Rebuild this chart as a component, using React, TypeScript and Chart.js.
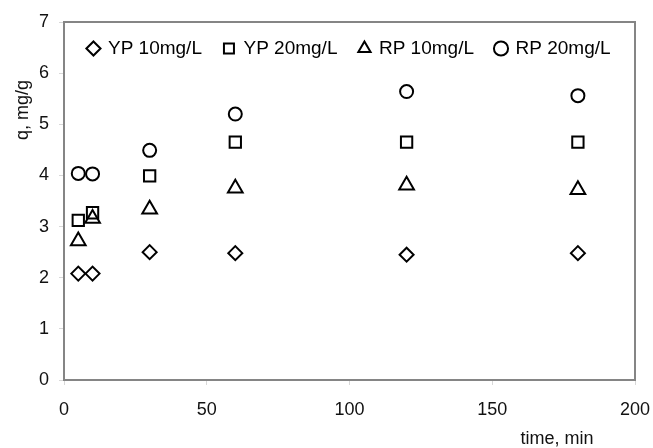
import React, { useEffect, useRef } from "react";
import { Chart, registerables } from "chart.js";

Chart.register(...registerables);

const times = [5, 10, 30, 60, 120, 180];
const yp10 = [2.08, 2.08, 2.5, 2.48, 2.45, 2.48];
const yp20 = [3.12, 3.27, 3.99, 4.65, 4.65, 4.65];
const rp10 = [2.72, 3.16, 3.34, 3.75, 3.81, 3.72];
const rp20 = [4.04, 4.03, 4.49, 5.2, 5.64, 5.56];

const seriesLabels = ["YP 10mg/L", "YP 20mg/L", "RP 10mg/L", "RP 20mg/L"];
const seriesStyles = ["rectRot", "rect", "triangle", "circle"];
const seriesRadii = [7, 8, 8.5, 6.5];
const xTitle = "time, min";
const yTitle = "q, mg/g";

const FONT = "'Liberation Sans', Arial, sans-serif";

const framePlugin = {
  id: "frameAndTitles",
  beforeDatasetsDraw(chart: any) {
    const { ctx, chartArea } = chart;
    ctx.save();
    ctx.strokeStyle = "#858585";
    ctx.lineWidth = 2;
    ctx.strokeRect(chartArea.left, chartArea.top, chartArea.right - chartArea.left, chartArea.bottom - chartArea.top);
    ctx.restore();
  },
  afterDraw(chart: any) {
    const { ctx } = chart;
    ctx.save();
    ctx.fillStyle = "#111";
    ctx.font = "18px " + FONT;
    ctx.textAlign = "center";
    ctx.textBaseline = "middle";
    ctx.fillText(xTitle, 557, 439);
    ctx.translate(23, 110);
    ctx.rotate(-Math.PI / 2);
    ctx.fillText(yTitle, 0, 0);
    ctx.restore();
  },
};

export default function App() {
  const ref = useRef<HTMLCanvasElement | null>(null);
  useEffect(() => {
    if (!ref.current) return;
    const all = [yp10, yp20, rp10, rp20];
    const chart = new Chart(ref.current, {
      type: "scatter",
      data: {
        datasets: all.map((vals, i) => ({
          label: seriesLabels[i],
          data: times.map((t, j) => ({ x: t, y: vals[j] })),
          pointStyle: seriesStyles[i] as any,
          pointRadius: seriesRadii[i],
          pointBorderWidth: 2,
          pointBorderColor: "#000",
          pointBackgroundColor: "rgba(0,0,0,0)",
          borderColor: "#000",
          backgroundColor: "rgba(0,0,0,0)",
          showLine: false,
        })),
      },
      options: {
        responsive: false,
        animation: false,
        layout: { padding: { left: 0, right: 18, top: 22, bottom: 0 } },
        plugins: {
          tooltip: { enabled: false },
          legend: {
            position: "chartArea" as any,
            labels: {
              usePointStyle: true,
              boxWidth: 10,
              boxHeight: 10,
              padding: 22,
              color: "#000",
              font: { size: 19, family: FONT },
            },
          },
        },
        scales: {
          x: {
            type: "linear",
            min: 0,
            max: 200,
            ticks: { stepSize: 50, color: "#111", padding: 14, font: { size: 18, family: FONT } },
            grid: { drawOnChartArea: false, drawTicks: true, tickLength: 5, color: "#d8d8d8" },
            border: { color: "#858585", width: 2 },
            afterFit: (s: any) => {
              s.height = 68;
              s.paddingRight = 0;
              s.paddingLeft = 0;
            },
          },
          y: {
            type: "linear",
            min: 0,
            max: 7,
            ticks: { stepSize: 1, color: "#111", padding: 10, font: { size: 18, family: FONT } },
            grid: { drawOnChartArea: false, drawTicks: true, tickLength: 5, color: "#d8d8d8" },
            border: { color: "#858585", width: 2 },
            afterFit: (s: any) => {
              s.width = 64;
              s.paddingTop = 0;
              s.paddingBottom = 0;
            },
          },
        },
      },
      plugins: [framePlugin],
    });
    // Lay the in-plot legend out as a single horizontal row at the top of the chart area.
    const lg: any = (chart as any).legend;
    if (lg) {
      lg.isHorizontal = () => true;
      lg.setDimensions = function () {
        const ca = chart.chartArea;
        this.width = ca.right - ca.left;
        this.left = ca.left;
        this.right = ca.right;
        this.top = ca.top - 5;
      };
      chart.update();
    }
    return () => chart.destroy();
  }, []);
  return (
    <div style={{ position: "fixed", left: 0, top: 0, width: 653, height: 448, background: "#fff" }}>
      <canvas ref={ref} width={653} height={448} style={{ display: "block" }} />
    </div>
  );
}
